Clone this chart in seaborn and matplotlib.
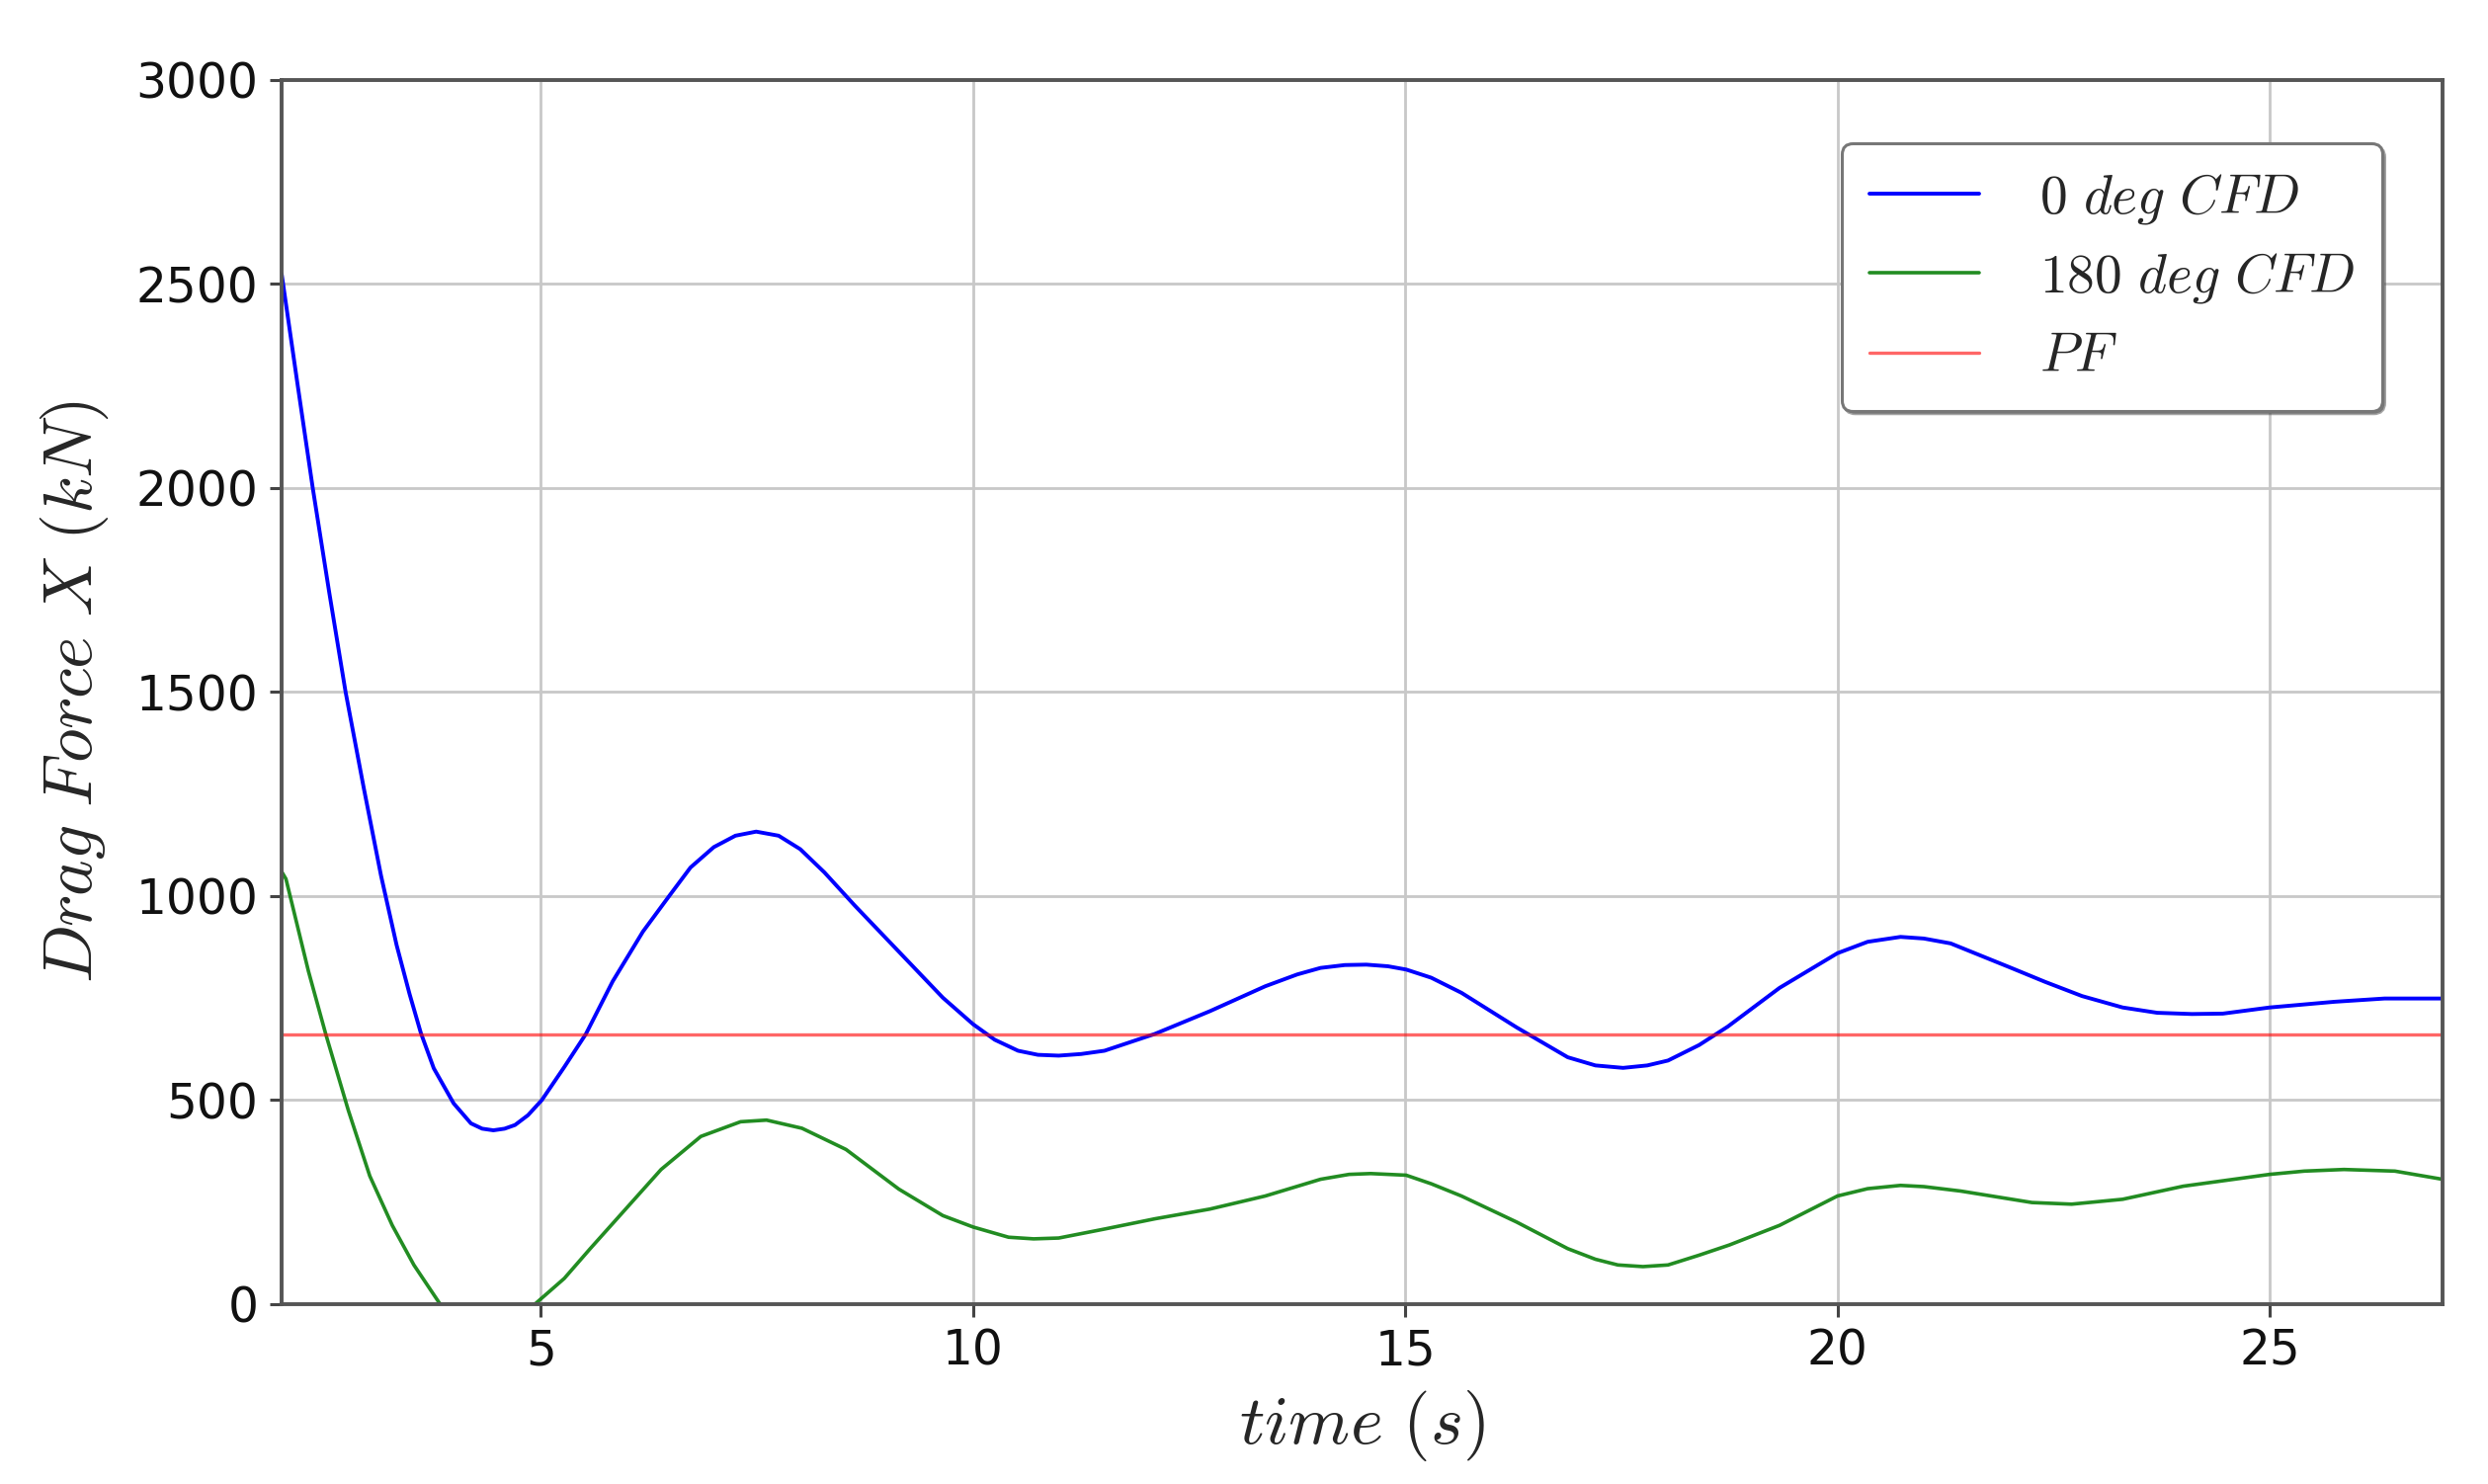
import numpy as np
import pandas as pd
import matplotlib
matplotlib.use("Agg")
import matplotlib.pyplot as plt
import seaborn as sns

# ---- data ----
t_0deg = [2.0, 2.18, 2.36, 2.55, 2.74, 2.95, 3.15, 3.33, 3.48, 3.61, 3.76, 3.99, 4.19, 4.32,
          4.45, 4.58, 4.70, 4.85, 5.01, 5.27, 5.52, 5.83, 6.18, 6.49, 6.73, 7.0, 7.25, 7.49,
          7.75, 8.0, 8.28, 8.63, 9.14, 9.65, 10.0, 10.25, 10.52, 10.75, 10.99, 11.25, 11.52,
          12.1, 12.74, 13.38, 13.75, 14.02, 14.3, 14.55, 14.8, 15.01, 15.3, 15.65, 16.29,
          16.88, 17.2, 17.52, 17.8, 18.04, 18.4, 18.73, 19.33, 20.0, 20.35, 20.73, 21.0,
          21.31, 22.01, 22.4, 22.83, 23.3, 23.7, 24.1, 24.46, 25.0, 25.75, 26.33, 27.0]
f_0deg = [2525, 2260, 2000, 1745, 1500, 1265, 1050, 880, 760, 665, 578, 492, 443, 430,
          426, 430, 439, 463, 500, 581, 662, 791, 913, 1002, 1070, 1120, 1148, 1158,
          1148, 1115, 1058, 977, 864, 751, 686, 648, 621, 611, 609, 613, 621,
          662, 718, 779, 808, 824, 831, 832, 828, 820, 800, 763, 678,
          605, 585, 579, 585, 597, 635, 680, 775, 860, 888, 900, 896,
          884, 824, 790, 755, 727, 714, 711, 712, 727, 741, 749, 749]

t_180deg = [2.0, 2.05, 2.31, 2.51, 2.77, 3.02, 3.28, 3.53, 3.84, 4.05, 4.3, 4.55, 4.75, 4.93,
            5.27, 5.57, 5.98, 6.39, 6.85, 7.31, 7.61, 8.02, 8.53, 9.14, 9.65, 10.0, 10.41,
            10.7, 10.99, 11.52, 12.1, 12.74, 13.38, 14.02, 14.35, 14.6, 15.01, 15.3, 15.65,
            16.29, 16.88, 17.2, 17.46, 17.75, 18.04, 18.4, 18.75, 19.33, 20.0, 20.35, 20.73,
            21.0, 21.43, 22.25, 22.71, 23.3, 24.0, 25.0, 25.4, 25.86, 26.45, 27.0]
f_180deg = [1060, 1042, 816, 662, 476, 314, 193, 96, -2, -45, -70, -60, -35, 0,
            63, 136, 233, 330, 411, 447, 451, 431, 379, 282, 217, 189, 164,
            160, 162, 184, 209, 233, 265, 306, 318, 320, 316, 295, 265,
            201, 136, 110, 96, 92, 96, 120, 145, 193, 265, 283, 291,
            288, 277, 249, 245, 257, 289, 318, 326, 330, 326, 306]

pf_value = 662
pf_t = [2.0, 27.0]

labels = [r"$0\ deg\ CFD$", r"$180\ deg\ CFD$", r"$PF$"]

# ---- styling ----
sns.set_style("whitegrid")
plt.rcParams["font.family"] = ["DejaVu Sans"]
plt.rcParams["mathtext.fontset"] = "cm"

fig = plt.figure(figsize=(25.18, 15.02), dpi=100)
ax = fig.add_axes([0.1132, 0.1212, 0.8685, 0.8249])

df0 = pd.DataFrame({"t": t_0deg, "F": f_0deg})
df1 = pd.DataFrame({"t": t_180deg, "F": f_180deg})
dfp = pd.DataFrame({"t": pf_t, "F": [pf_value] * len(pf_t)})

sns.lineplot(data=df0, x="t", y="F", ax=ax, color="blue", lw=2.8, label=labels[0])
sns.lineplot(data=df1, x="t", y="F", ax=ax, color="#0a800a", lw=2.6, alpha=0.9, label=labels[1])
sns.lineplot(data=dfp, x="t", y="F", ax=ax, color="red", lw=2.4, alpha=0.6, label=labels[2])

ax.set_xlim(2, 27)
ax.set_ylim(0, 3000)
ax.set_xticks([5, 10, 15, 20, 25])
ax.set_yticks([0, 500, 1000, 1500, 2000, 2500, 3000])

ax.grid(True, color="#c8c8c8", lw=2.0)
for s in ax.spines.values():
    s.set_visible(True)
    s.set_color("#555555")
    s.set_linewidth(2.8)

ax.tick_params(axis="both", which="major", direction="out", length=9, width=2.2,
               color="#444444", labelsize=35, labelcolor="#111111", pad=8,
               bottom=True, left=True)

ax.set_xlabel(r"$time\ (s)$", fontsize=51, labelpad=10)
ax.set_ylabel(r"$Drag\ Force\ X\ (kN)$", fontsize=50, labelpad=18)

leg = ax.legend(loc="upper right", bbox_to_anchor=(0.972, 0.948), borderaxespad=0,
                fontsize=40, frameon=True, fancybox=True, shadow=True, framealpha=1.0,
                edgecolor="#777777", handlelength=2.0, handletextpad=1.1,
                labelspacing=0.45, borderpad=0.5)
leg.get_frame().set_linewidth(2.2)

fig.savefig("out.png", dpi=100)
